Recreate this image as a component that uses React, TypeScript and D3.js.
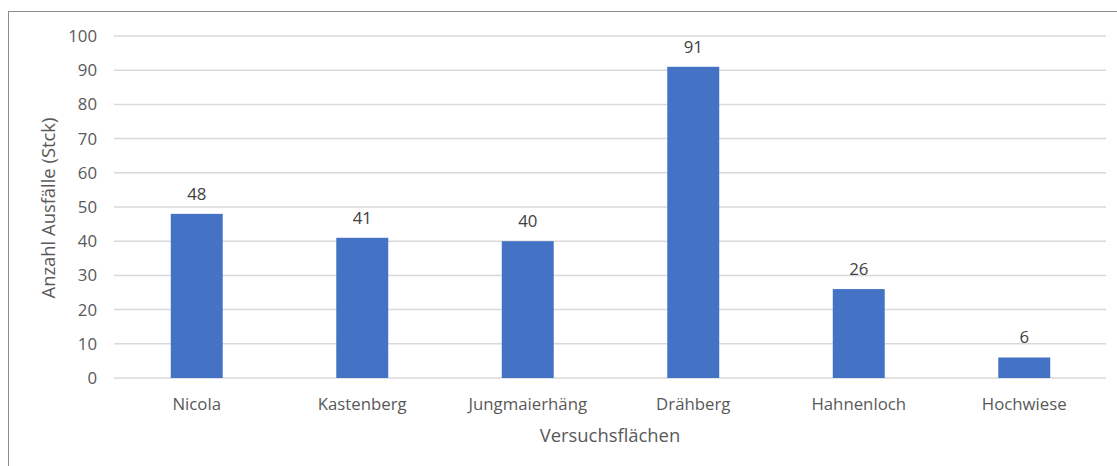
import React from "react";
import * as d3 from "d3";

const categories = ["Nicola", "Kastenberg", "Jungmaierhäng", "Drähberg", "Hahnenloch", "Hochwiese"];
const ausfaelle = [48, 41, 40, 91, 26, 6];
const yTicks = [0, 10, 20, 30, 40, 50, 60, 70, 80, 90, 100];

const W = 1117;
const H = 466;
const FONT = "'Open Sans', 'Segoe UI', sans-serif";

export default function App() {
  const x = d3.scaleBand<string>().domain(categories).range([114, 1107]).paddingInner(0.686).paddingOuter(0.343);
  const y = d3.scaleLinear().domain([0, 100]).range([378, 36]);

  return (
    <svg
      width={W}
      height={H}
      style={{ position: "fixed", left: 0, top: 0, background: "#fff", display: "block" }}
    >
      <rect x={8.5} y={11.5} width={W + 20} height={H + 20} fill="#fff" stroke="#8c8c8c" strokeWidth={1} />
      {yTicks.map((t) => (
        <g key={t}>
          <line x1={114} x2={1106} y1={y(t)} y2={y(t)} stroke="#d9d9d9" strokeWidth={1.5} />
          <text x={97} y={y(t)} dy="0.36em" textAnchor="end" fontFamily={FONT} fontSize={16.8} fill="#595959">
            {t}
          </text>
        </g>
      ))}
      {categories.map((c, i) => (
        <g key={c}>
          <rect x={x(c)} y={y(ausfaelle[i])} width={x.bandwidth()} height={y(0) - y(ausfaelle[i])} fill="#4472c4" />
          <text
            x={(x(c) ?? 0) + x.bandwidth() / 2}
            y={y(ausfaelle[i]) - 14}
            textAnchor="middle"
            fontFamily={FONT}
            fontSize={16.8}
            fill="#404040"
          >
            {ausfaelle[i]}
          </text>
          <text
            x={(x(c) ?? 0) + x.bandwidth() / 2}
            y={404}
            dy="0.36em"
            textAnchor="middle"
            fontFamily={FONT}
            fontSize={16.8}
            fill="#595959"
          >
            {c}
          </text>
        </g>
      ))}
      <text x={610} y={435} dy="0.36em" textAnchor="middle" fontFamily={FONT} fontSize={18.4} fill="#595959">
        Versuchsflächen
      </text>
      <text
        transform={`translate(48,${208}) rotate(-90)`}
        dy="0.36em"
        textAnchor="middle"
        fontFamily={FONT}
        fontSize={18.4}
        fill="#595959"
      >
        Anzahl Ausfälle (Stck)
      </text>
    </svg>
  );
}
